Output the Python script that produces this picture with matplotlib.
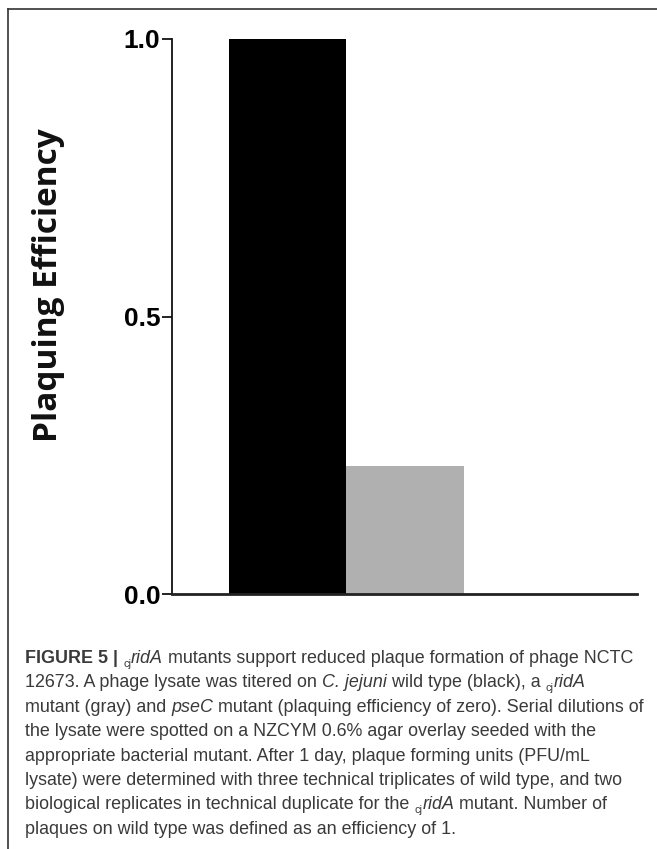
import numpy as np
import matplotlib
matplotlib.use("Agg")
import matplotlib.pyplot as plt
from matplotlib.lines import Line2D

# data
strains = ["wild type", "cjridA", "pseC"]
efficiency = [1.0, 0.23, 0.0]
bar_colors = ["#000000", "#b0b0b0", "#ffffff"]
yticks = [0.0, 0.5, 1.0]
ytick_labels = ["0.0", "0.5", "1.0"]

W, H = 657, 849
fig = plt.figure(figsize=(W / 100, H / 100), dpi=100)
ax = fig.add_axes([172 / W, 1 - 594 / H, (637 - 172) / W, (594 - 39) / H])

x = np.arange(len(strains))
ax.bar(x, efficiency, width=1.0, color=bar_colors, edgecolor="none", zorder=2)
ax.set_xlim(-0.98, 2.97)
ax.set_ylim(0, 1.0)

ax.set_yticks(yticks)
ax.set_yticklabels(ytick_labels, fontfamily="Liberation Sans", fontweight="bold", fontsize=19)
ax.tick_params(axis="y", length=7, width=1.3, pad=1.5, color="#111111")
ax.set_xticks([])
for s in ["top", "right"]:
    ax.spines[s].set_visible(False)
ax.spines["left"].set_linewidth(1.3)
ax.spines["left"].set_color("#111111")
ax.spines["bottom"].set_linewidth(2.0)
ax.spines["bottom"].set_color("#222222")
ax.spines["bottom"].set_zorder(3)

fig.text(49 / W, 1 - 285 / H, "Plaquing Efficiency", rotation=90, ha="center", va="center",
         fontfamily="Open Sans", fontweight="bold", fontsize=24, color="#111111")

# page frame (top and left edges)
fig.add_artist(Line2D([8 / W, 1.0], [1 - 9 / H, 1 - 9 / H], color="#333333", lw=1.2))
fig.add_artist(Line2D([8 / W, 8 / W], [1 - 9 / H, 0.0], color="#333333", lw=1.2))

# caption, drawn piece by piece
cap_size = 12.85
cap_color = "#3a3a3a"
base = dict(fontfamily="Liberation Sans", fontsize=cap_size, color=cap_color)
R = {}
B = {"fontweight": "bold"}
I = {"fontstyle": "italic"}
S = {"fontsize": cap_size * 0.62, "sub": True}

caption = [
    [("FIGURE 5 | ", B), ("cj", S), ("ridA", I), (" mutants support reduced plaque formation of phage NCTC", R)],
    [("12673. A phage lysate was titered on ", R), ("C. jejuni", I), (" wild type (black), a ", R), ("cj", S), ("ridA", I)],
    [("mutant (gray) and ", R), ("pseC", I), (" mutant (plaquing efficiency of zero). Serial dilutions of", R)],
    [("the lysate were spotted on a NZCYM 0.6% agar overlay seeded with the", R)],
    [("appropriate bacterial mutant. After 1 day, plaque forming units (PFU/mL", R)],
    [("lysate) were determined with three technical triplicates of wild type, and two", R)],
    [("biological replicates in technical duplicate for the ", R), ("cj", S), ("ridA", I), (" mutant. Number of", R)],
    [("plaques on wild type was defined as an efficiency of 1.", R)],
]

fig.canvas.draw()
renderer = fig.canvas.get_renderer()


def text_width(txt, kw):
    # measure with a trailing bar so trailing spaces count
    t1 = fig.text(0, 0, txt + "|", **kw)
    t2 = fig.text(0, 0, "|", **kw)
    w = t1.get_window_extent(renderer).width - t2.get_window_extent(renderer).width
    t1.remove()
    t2.remove()
    return w


x0 = 25
y0 = 663
line_gap = 24.4
for i, line in enumerate(caption):
    xp = x0
    yp = y0 + i * line_gap
    for txt, style in line:
        kw = dict(base)
        st = dict(style)
        dy = 0
        if st.pop("sub", False):
            dy = 4
        kw.update(st)
        fig.text(xp / W, 1 - (yp + dy) / H, txt, ha="left", va="baseline", **kw)
        xp += text_width(txt, kw)

fig.savefig("out.png", dpi=100)
